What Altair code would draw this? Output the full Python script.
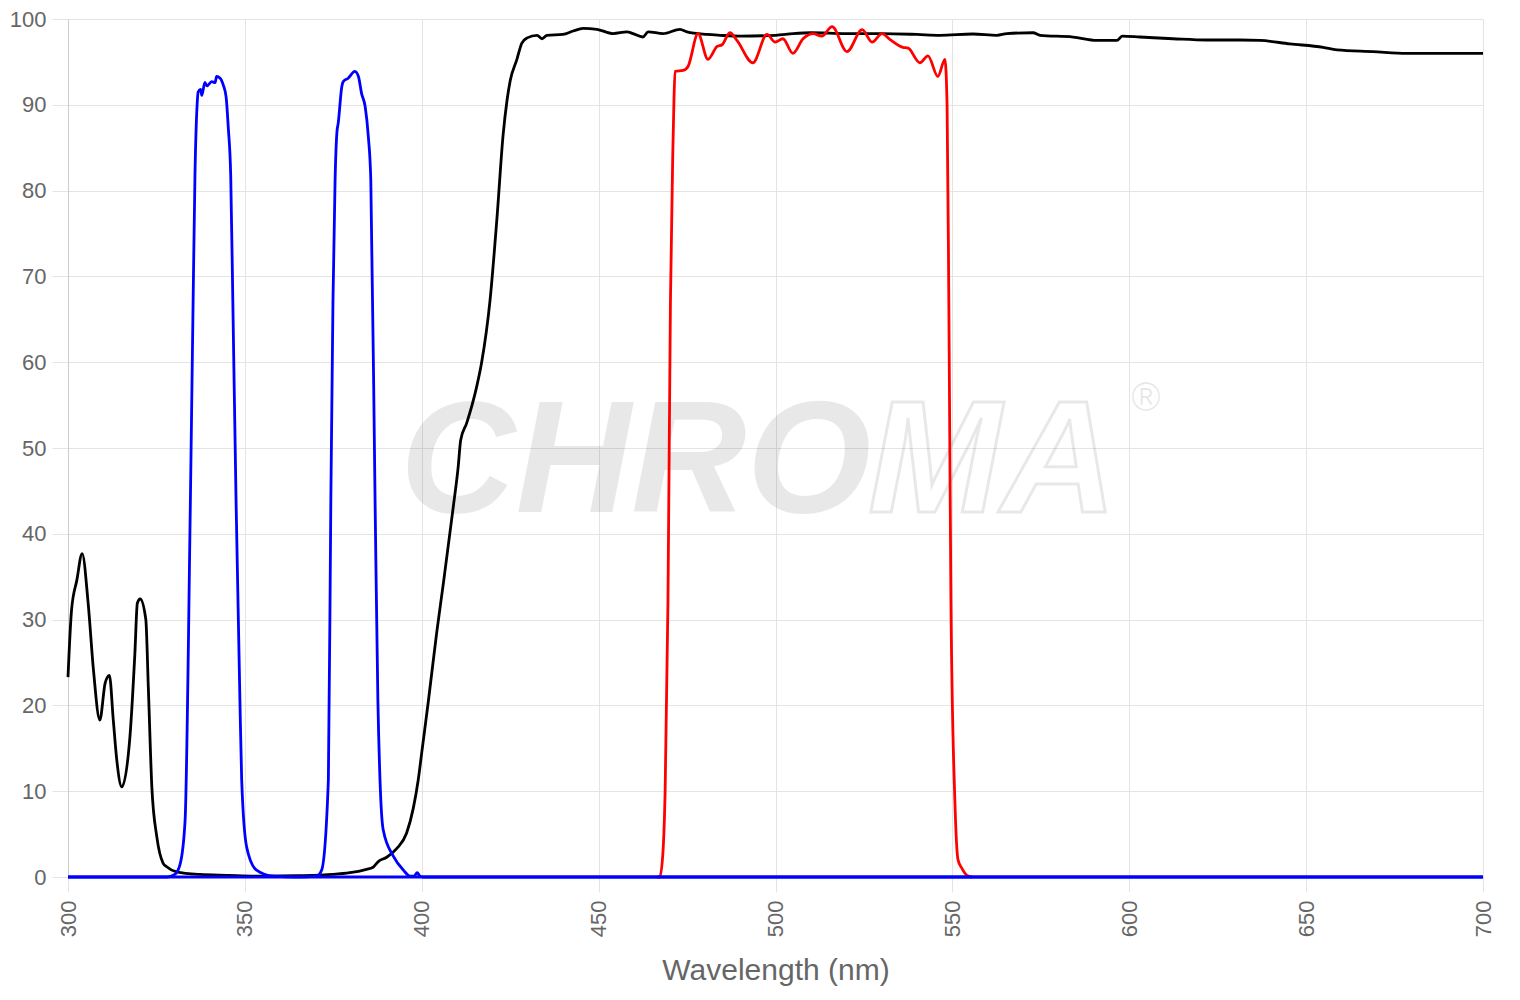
import altair as alt
import pandas as pd

# ---- data ----
black_wl = [300, 301, 302.5, 304, 305.7, 307.2, 309, 310.5, 311.7, 312.8, 313.8, 315.2,
            317.5, 318.9, 319.6, 320.4, 322, 322.7, 323.7, 325.1, 326.9, 327.9, 330.7,
            337.3, 345, 355, 365, 374.9, 379.7, 384.4, 386.1, 387.7, 390.1, 392.9, 395.7,
            397.6, 399, 400, 401.9, 404.2, 406.1, 408.9, 410.3, 411, 412.7, 415.5, 416.9,
            419.3, 421.3, 423, 424.1, 425, 426.9, 428.3, 429.8, 432.6, 434, 435.4, 439.9,
            442.8, 445.6, 449.5, 454.1, 458, 459.7, 462.5, 464, 468.2, 473, 475, 480.6,
            484.3, 490, 500, 505, 510, 520, 530, 540, 546.5, 555.8, 562.6, 565.4, 572.8,
            574.8, 584.1, 590.9, 596.5, 598, 603, 612.4, 622, 631.3, 637, 645.4, 654.8,
            658.7, 668.9, 678.5, 689.8, 700]
black_t = [23.3, 31.1, 34.6, 37.7, 31.9, 24.1, 18.3, 22.6, 23.5, 18.3, 13.6, 10.5,
           16.3, 26.0, 31.9, 32.4, 30.0, 22.2, 10.5, 4.7, 1.6, 1.2, 0.6,
           0.3, 0.2, 0.1, 0.15, 0.3, 0.5, 0.9, 1.1, 1.8, 2.3, 3.3, 5.1,
           8.0, 11.3, 14.5, 20.6, 28.4, 34.2, 43.1, 47.8, 50.9, 52.9, 57.1, 59.9,
           67.2, 77.0, 86.5, 90.5, 92.8, 95.3, 97.2, 97.8, 98.1, 97.7, 98.1, 98.2,
           98.6, 98.9, 98.8, 98.3, 98.5, 98.3, 97.9, 98.5, 98.3, 98.8, 98.5, 98.2,
           98.1, 98.0, 98.1, 98.3, 98.4, 98.3, 98.3, 98.2, 98.1, 98.25, 98.1, 98.3, 98.4,
           98.1, 97.9, 97.5, 97.5, 98.0, 97.9, 97.7, 97.55, 97.55, 97.5, 97.1, 96.7,
           96.4, 96.2, 96.0, 96.0, 96.0]

blue_wl = [300, 328, 330.2, 331.7, 333.1, 334.5, 335.3, 335.9, 336.5, 336.8, 337.5, 337.8,
           338.7, 339.3, 340.6, 341.6, 342, 343, 343.9, 344.7, 345.3, 346, 346.6, 347.5,
           348.6, 349.1, 350.5, 353.3, 358, 365, 370.3, 371.7, 373.6, 374.3, 374.9, 375.5,
           376, 376.4, 377.4, 377.8, 379.2, 381.1, 382.1, 383, 384, 384.9, 385.6, 386.8,
           387.6, 388.2, 389.1, 392, 394.8, 396.7, 397.8, 398.7, 399.5, 400.4, 700]
blue_t = [0, 0, 0.3, 1.5, 6.6, 41, 65, 82, 90, 91.5, 91.8, 91.1,
          92.6, 92.2, 92.7, 92.6, 93.3, 93.1, 92.3, 90.9, 87.4, 81.7, 67, 44,
          20.6, 11.3, 3.5, 0.8, 0.1, 0, 0.1, 0.8, 11.3, 44, 67, 81.2,
          86.7, 87.9, 92.1, 92.7, 93.1, 93.9, 93.3, 91.3, 89.8, 86.3, 81.2, 44,
          20.6, 11.3, 5.5, 2.4, 0.8, 0.1, 0.1, 0.5, 0.1, 0, 0]

# blue zero baseline visible along the whole x range
base_wl = [300, 700]
base_t = [0, 0]

red_wl = [466.5, 467.3, 468.2, 468.8, 469.6, 470.3, 471.0, 471.3, 471.6, 473.9, 475.3, 478.1,
          480.9, 483.5, 484.9, 487.1, 489.1, 493.6, 497.6, 499.9, 502.1, 504.9, 507.8,
          510.6, 513.1, 516.0, 520.2, 524.5, 527.3, 530.1, 532.4, 536.0, 537.5, 540.8,
          543.1, 545.9, 547.9, 548.5, 549.0, 549.6, 550.7, 551.6, 552.7, 554.1, 555.5]
red_t = [0, 0, 3, 10, 32, 67, 85, 90.6, 93.9, 94.0, 94.5, 98.3,
         95.3, 96.8, 97.0, 98.4, 97.5, 94.9, 98.2, 97.3, 97.7, 96.0, 97.7,
         98.3, 98.0, 99.1, 96.2, 98.75, 97.3, 98.3, 97.6, 96.7, 96.6, 94.9,
         95.7, 93.3, 95.3, 90, 67, 32, 9, 2, 1, 0.2, 0]

x_ticks = [300, 350, 400, 450, 500, 550, 600, 650, 700]
y_ticks = [0, 10, 20, 30, 40, 50, 60, 70, 80, 90, 100]
x_title = "Wavelength (nm)"

FONT = "Liberation Sans"
GRID = "#e4e4e4"
LABEL = "#666666"

x_enc = alt.X(
    "wl:Q",
    scale=alt.Scale(domain=[300, 700], nice=False, zero=False),
    axis=alt.Axis(
        title=x_title, values=x_ticks, labelAngle=270, labelFlush=False,
        grid=True, gridColor=GRID, gridWidth=1, tickColor=GRID, tickSize=15,
        domainColor="#cccccc", labelColor=LABEL, labelFont=FONT, labelFontSize=22,
        labelPadding=8, titleColor=LABEL, titleFont=FONT, titleFontSize=30,
        titleFontWeight="normal", titlePadding=19,
    ),
)
y_enc = alt.Y(
    "t:Q",
    scale=alt.Scale(domain=[0, 100], nice=False),
    axis=alt.Axis(
        title=None, values=y_ticks, grid=True, gridColor=GRID, gridWidth=1,
        tickColor=GRID, tickSize=16, domainColor="#cccccc", labelColor=LABEL,
        labelFont=FONT, labelFontSize=22, labelPadding=6,
    ),
)


def series(wl, t, color):
    df = pd.DataFrame({"wl": wl, "t": t})
    return alt.Chart(df).mark_line(
        color=color, strokeWidth=2.8, interpolate="monotone"
    ).encode(x=x_enc, y=y_enc)


wm_df = pd.DataFrame({"a": ["CHRO"], "b": ["MA"], "c": ["®"]})
wm1 = alt.Chart(wm_df).mark_text(
    font=FONT, fontSize=160, fontWeight="bold", fontStyle="italic",
    align="left", baseline="alphabetic", fill="#000000", fillOpacity=0.09,
).encode(text="a:N", x=alt.value(332), y=alt.value(493))
wm2 = alt.Chart(wm_df).mark_text(
    font=FONT, fontSize=160, fontWeight="bold", fontStyle="italic",
    align="left", baseline="alphabetic", fillOpacity=0, stroke="#000000",
    strokeOpacity=0.09, strokeWidth=3,
).encode(text="b:N", x=alt.value(800), y=alt.value(493))
wm3 = alt.Chart(wm_df).mark_text(
    font=FONT, fontSize=40, align="center", baseline="middle",
    fill="#000000", fillOpacity=0.09,
).encode(text="c:N", x=alt.value(1078), y=alt.value(380))

chart = alt.layer(
    wm1, wm2, wm3,
    series(black_wl, black_t, "#000000"),
    series(red_wl, red_t, "#ff0000"),
    series(blue_wl, blue_t, "#0000ff"),
    series(base_wl, base_t, "#0000ff"),
).properties(
    width=1415, height=858,
    autosize=alt.AutoSizeParams(type="none"),
    padding={"left": 68, "top": 19, "right": 37, "bottom": 123},
).configure_view(stroke=None)

chart.save("out.html", embed_options={"renderer": "svg", "actions": False})
